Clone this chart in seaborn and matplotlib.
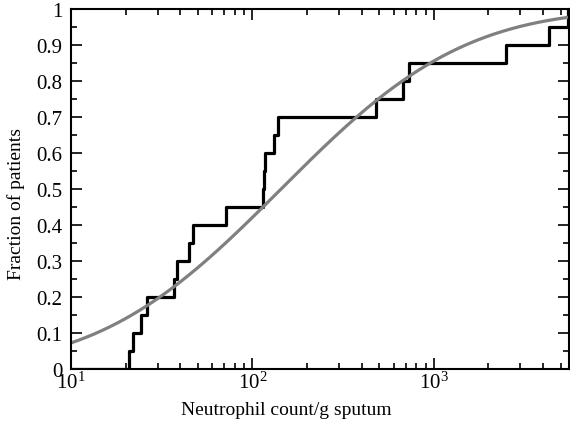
import math
import numpy as np
import pandas as pd
import matplotlib
matplotlib.use("Agg")
import matplotlib.pyplot as plt
import seaborn as sns
from matplotlib.ticker import LogLocator, MultipleLocator, FixedLocator, FixedFormatter

# Neutrophil counts per patient
neutrophil_counts = [21, 22, 24.2, 26.1, 36.9, 38.2, 44.5, 47.2, 71.4, 115,
                     116, 118, 131, 139, 477, 678, 731, 2512, 4300, 5500]
# Fitted log-normal parameters (log10 scale)
fit_mu_log10 = 2.158
fit_sigma_log10 = 0.794
y_ticks = [0, 0.1, 0.2, 0.3, 0.4, 0.5, 0.6, 0.7, 0.8, 0.9, 1]
y_tick_labels = ["0", "0.1", "0.2", "0.3", "0.4", "0.5", "0.6", "0.7", "0.8", "0.9", "1"]
x_min, x_max = 10, 5550

sns.set_theme(style="white")
plt.rcParams["font.family"] = ["Liberation Serif", "DejaVu Serif"]
plt.rcParams["mathtext.fontset"] = "stix"

fig = plt.figure(figsize=(5.7, 4.27), dpi=100)
ax = fig.add_axes([0.1246, 0.1335, 0.8734, 0.8431])

df = pd.DataFrame({"count": neutrophil_counts})
sns.ecdfplot(data=df, x="count", ax=ax, color="black", linewidth=2.3, log_scale=True)

xs = np.logspace(math.log10(x_min), math.log10(x_max), 400)
cdf = np.array([0.5 * (1 + math.erf((math.log10(v) - fit_mu_log10) / (fit_sigma_log10 * math.sqrt(2)))) for v in xs])
sns.lineplot(x=xs, y=cdf, ax=ax, color="#808080", linewidth=2.3)

ax.set_xscale("log")
ax.set_xlim(x_min, x_max)
ax.set_ylim(0, 1)
ax.yaxis.set_major_locator(FixedLocator(y_ticks))
ax.yaxis.set_major_formatter(FixedFormatter(y_tick_labels))
ax.yaxis.set_minor_locator(MultipleLocator(0.05))
ax.xaxis.set_major_locator(LogLocator(base=10))
ax.xaxis.set_minor_locator(LogLocator(base=10, subs=np.arange(2, 10)))

ax.tick_params(which="both", direction="in", top=True, right=True, bottom=True, left=True,
               colors="black", labelsize=15, width=1.2)
ax.tick_params(which="major", length=8)
ax.tick_params(which="minor", length=4)
ax.tick_params(axis="x", pad=2)
ax.tick_params(axis="y", pad=6)

for s in ax.spines.values():
    s.set_color("black")
    s.set_linewidth(1.5)

ax.set_xlabel("Neutrophil count/g sputum", fontsize=14, color="black")
ax.set_ylabel("Fraction of patients", fontsize=14, color="black")
ax.xaxis.set_label_coords(0.433, -0.088)
ax.yaxis.set_label_coords(-0.092, 0.461)
ax.grid(False)

fig.savefig("out.png", dpi=100)
